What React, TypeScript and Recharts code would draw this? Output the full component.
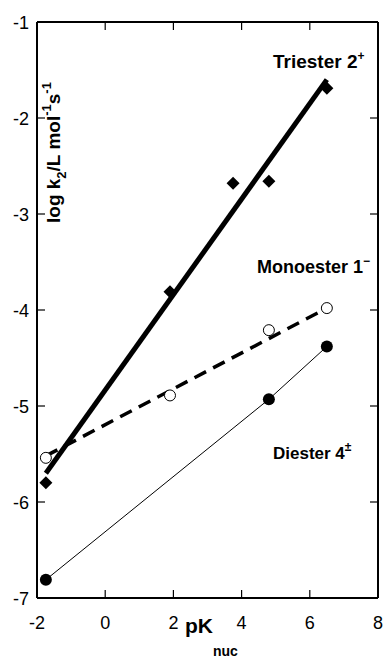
import React from "react";
import { ComposedChart, Line, Scatter, XAxis, YAxis } from "recharts";

const xTicks = [-2, 0, 2, 4, 6, 8];
const yTicks = [-7, -6, -5, -4, -3, -2, -1];

// measured points
const triesterPK = [-1.74, 1.9, 3.75, 4.8, 6.5];
const triesterLogK = [-5.8, -3.81, -2.68, -2.66, -1.69];
const monoesterPK = [-1.74, 1.9, 4.8, 6.5];
const monoesterLogK = [-5.54, -4.89, -4.21, -3.98];
const diesterPK = [-1.74, 4.8, 6.5];
const diesterLogK = [-6.81, -4.93, -4.38];

// fitted lines (end points)
const fitPK = [-1.74, 6.5];
const triesterFit = [-5.7, -1.6];
const monoesterFit = [-5.52, -3.98];

const toPoints = (xs: number[], ys: number[]) => xs.map((x, i) => ({ x, y: ys[i] }));

const FONT = '"Liberation Sans", Arial, Helvetica, sans-serif';

const BottomTick = (props: any) => {
  const { x, y, payload } = props;
  return (
    <g>
      <line x1={x} x2={x} y1={y} y2={y - 8} stroke="#000" strokeWidth={1.2} />
      <text x={x} y={y + 31} textAnchor="middle" fontSize={18} fontFamily={FONT} fill="#000">
        {payload.value}
      </text>
    </g>
  );
};

const TopTick = (props: any) => {
  const { x, y } = props;
  return <line x1={x} x2={x} y1={y} y2={y + 8} stroke="#000" strokeWidth={1.2} />;
};

const LeftTick = (props: any) => {
  const { x, y, payload } = props;
  return (
    <g>
      <line x1={x} x2={x + 8} y1={y} y2={y} stroke="#000" strokeWidth={1.2} />
      <text x={x - 8} y={y + 6.5} textAnchor="end" fontSize={18} fontFamily={FONT} fill="#000">
        {payload.value}
      </text>
    </g>
  );
};

const RightTick = (props: any) => {
  const { x, y } = props;
  return <line x1={x} x2={x - 8} y1={y} y2={y} stroke="#000" strokeWidth={1.2} />;
};

const Diamond = (props: any) => {
  const { cx, cy } = props;
  const r = 6.5;
  return <polygon points={`${cx},${cy - r} ${cx + r},${cy} ${cx},${cy + r} ${cx - r},${cy}`} fill="#000" />;
};

const OpenCircle = (props: any) => (
  <circle cx={props.cx} cy={props.cy} r={5.5} fill="#fff" stroke="#000" strokeWidth={1} />
);

const FilledCircle = (props: any) => <circle cx={props.cx} cy={props.cy} r={6} fill="#000" />;

export default function App() {
  const axisLine = { stroke: "#000", strokeWidth: 2 };
  return (
    <div style={{ position: "absolute", left: 0, top: 0, width: 383, height: 656, background: "#fff" }}>
      <ComposedChart width={383} height={656} margin={{ top: 0, right: 0, bottom: 0, left: 0 }}>
        <XAxis xAxisId="b" type="number" dataKey="x" domain={[-2, 8]} ticks={xTicks} height={58}
          tickSize={0} tickMargin={0} tickLine={false} tick={BottomTick} axisLine={axisLine} allowDataOverflow />
        <XAxis xAxisId="t" orientation="top" type="number" dataKey="x" domain={[-2, 8]} ticks={xTicks} height={22}
          tickSize={0} tickMargin={0} tickLine={false} tick={TopTick} axisLine={axisLine} allowDataOverflow />
        <YAxis yAxisId="l" type="number" dataKey="y" domain={[-7, -1]} ticks={yTicks} width={37}
          tickSize={0} tickMargin={0} tickLine={false} tick={LeftTick} axisLine={axisLine} allowDataOverflow />
        <YAxis yAxisId="r" orientation="right" type="number" dataKey="y" domain={[-7, -1]} ticks={yTicks} width={5}
          tickSize={0} tickMargin={0} tickLine={false} tick={RightTick} axisLine={axisLine} allowDataOverflow />

        <Line xAxisId="t" yAxisId="r" data={toPoints(fitPK, triesterFit)} dataKey="y" type="linear"
          stroke="#000" strokeWidth={5} dot={false} activeDot={false} isAnimationActive={false} />
        <Line xAxisId="t" yAxisId="r" data={toPoints(fitPK, monoesterFit)} dataKey="y" type="linear"
          stroke="#000" strokeWidth={3.5} strokeDasharray="13 8" dot={false} activeDot={false} isAnimationActive={false} />
        <Line xAxisId="t" yAxisId="r" data={toPoints(diesterPK, diesterLogK)} dataKey="y" type="linear"
          stroke="#000" strokeWidth={1} dot={false} activeDot={false} isAnimationActive={false} />

        <Scatter xAxisId="b" yAxisId="l" data={toPoints(triesterPK, triesterLogK)} dataKey="y"
          shape={Diamond} isAnimationActive={false} />
        <Scatter xAxisId="b" yAxisId="l" data={toPoints(monoesterPK, monoesterLogK)} dataKey="y"
          shape={OpenCircle} isAnimationActive={false} />
        <Scatter xAxisId="b" yAxisId="l" data={toPoints(diesterPK, diesterLogK)} dataKey="y"
          shape={FilledCircle} isAnimationActive={false} />
      </ComposedChart>

      <svg width={383} height={656} style={{ position: "absolute", left: 0, top: 0, pointerEvents: "none" }}
        fontFamily={FONT} fontWeight="bold" fill="#000">
        <text x={273} y={68} fontSize={19}>
          Triester 2<tspan dy={-8} fontSize={12}>+</tspan>
        </text>
        <text x={257} y={273} fontSize={18}>
          Monoester 1<tspan dy={-8} fontSize={12}>−</tspan>
        </text>
        <text x={273} y={459} fontSize={17}>
          Diester 4<tspan dy={-8} fontSize={12}>±</tspan>
        </text>
        <text transform="translate(60,223) rotate(-90)" fontSize={19}>
          log k<tspan dy={6} fontSize={13}>2</tspan>
          <tspan dy={-6}>/L mol</tspan>
          <tspan dy={-9} fontSize={13}>-1</tspan>
          <tspan dy={9}>s</tspan>
          <tspan dy={-9} fontSize={13}>-1</tspan>
        </text>
        <text x={185} y={633} fontSize={21}>
          pK<tspan dy={23} fontSize={14}>nuc</tspan>
        </text>
      </svg>
    </div>
  );
}
